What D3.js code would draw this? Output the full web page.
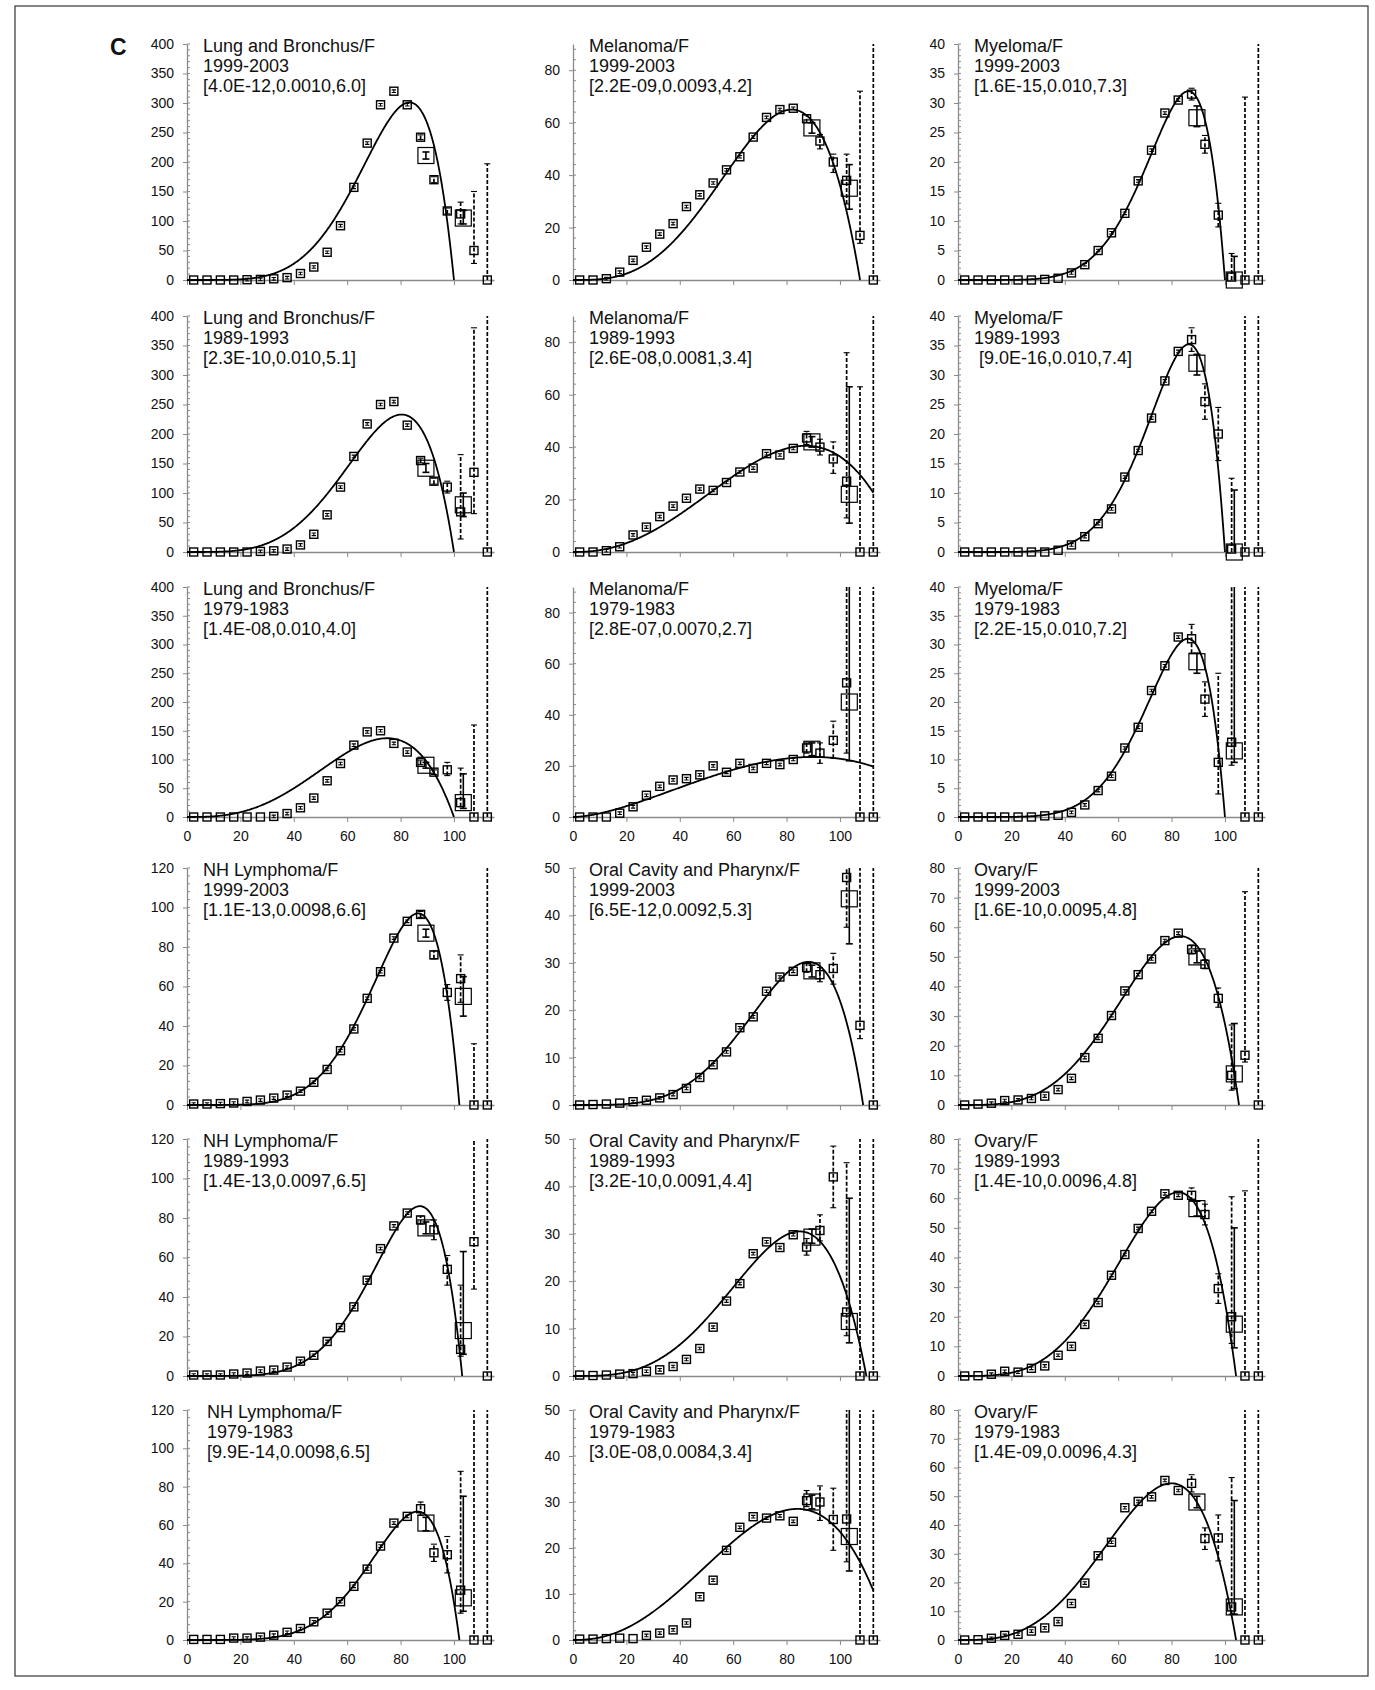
<!DOCTYPE html>
<html>
<head>
<meta charset="utf-8">
<script src="https://cdn.jsdelivr.net/npm/d3@7"></script>
<style>
  body { margin: 0; background: #fff; }
  svg text { font-family: "Liberation Sans", Arial, sans-serif; fill: #111; }
</style>
</head>
<body>
<div id="chart"></div>
<script>
// ---- data ----
const ages = [2.5, 7.5, 12.5, 17.5, 22.5, 27.5, 32.5, 37.5, 42.5, 47.5, 52.5, 57.5,
  62.5, 67.5, 72.5, 77.5, 82.5, 87.5, 92.5, 97.5, 102.5, 107.5, 112.5];
const tailAges = [87.5, 92.5, 97.5, 102.5, 107.5, 112.5]; // dashed error bars
const groupAges = [89.5, 103.5];                            // 85+ and 100+ groups

const siteNames = ["Lung and Bronchus/F", "Melanoma/F", "Myeloma/F",
  "NH Lymphoma/F", "Oral Cavity and Pharynx/F", "Ovary/F"];
const periods = ["1999-2003", "1989-1993", "1979-1983"];
const yMax = [400, 90, 40, 120, 50, 80];
const yStep = [50, 20, 5, 20, 10, 10];

const lungRates = [
  [0, 0, 0, 0, 0.5, 1, 2, 4, 11, 22, 47, 92, 157, 232, 297, 320, 297, 242, 170, 117, 112, 50, 0],
  [0, 0, 0, 0, 0, 1, 2, 5, 12, 30, 63, 110, 162, 217, 250, 255, 215, 155, 120, 110, 68, 135, 0],
  [0, 0, 0, 0, 0, 0, 1, 6, 16, 33, 63, 93, 125, 148, 150, 128, 113, 95, 78, 82, 25, 0, 0]
];
const melanomaRates = [
  [0, 0, 0.5, 3, 7.5, 12.5, 17.5, 21.5, 28, 32.5, 37, 42, 47, 54.5, 62, 65, 65.5, 61.5, 53, 45, 38, 17, 0],
  [0, 0, 0.5, 2, 6.5, 9.5, 13.5, 17.5, 20.5, 24, 23.5, 26.5, 30.5, 32, 37.5, 37, 39.5, 43.5, 40, 35.5, 27, 0, 0],
  [0, 0, 0, 1.5, 4, 8.5, 12, 14.5, 15, 16.5, 20, 17.5, 21, 19, 21, 20.5, 22.5, 27, 25, 30, 52.5, 0, 0]
];
const myelomaRates = [
  [0, 0, 0, 0, 0, 0, 0.1, 0.3, 1.2, 2.6, 5, 8, 11.3, 16.8, 22, 28.3, 30.5, 31.5, 23, 11, 0.5, 0, 0],
  [0, 0, 0, 0, 0, 0, 0, 0.3, 1.2, 2.6, 4.8, 7.3, 12.7, 17.2, 22.7, 29, 34, 36, 25.5, 20, 0.5, 0, 0],
  [0, 0, 0, 0, 0, 0, 0.2, 0.3, 0.8, 2.1, 4.6, 7.1, 12, 15.6, 22, 26.3, 31.3, 31, 20.5, 9.5, 13, 0, 0]
];
const lymphomaRates = [
  [0.5, 0.5, 0.7, 1, 1.8, 2.5, 3.5, 5, 7, 11.5, 18, 27.5, 38.5, 54, 67.5, 84.5, 93, 96.5, 76, 57, 64, 0, 0],
  [0.5, 0.5, 0.5, 1, 1.5, 2.5, 3, 4.5, 7.5, 10.5, 17.5, 24.5, 35, 48.5, 64.5, 76, 82.5, 79, 74, 54, 13.5, 68, 0],
  [0.3, 0.3, 0.3, 1, 1, 1.5, 2.5, 4, 6, 9.5, 14, 20, 28, 37, 49, 61, 64.5, 68.5, 45.5, 44.5, 26, 0, 0]
];
const oralRates = [
  [0, 0.1, 0.2, 0.4, 0.7, 1, 1.5, 2.2, 3.5, 5.8, 8.5, 11.2, 16.3, 18.6, 24, 27, 28.2, 29, 27.5, 28.8, 48, 16.8, 0],
  [0.2, 0.1, 0.2, 0.4, 0.5, 1, 1.3, 2, 3.5, 5.8, 10.3, 15.8, 19.5, 25.8, 28.3, 27.1, 29.8, 27.2, 30.7, 42, 13.5, 0, 0],
  [0.2, 0.2, 0.3, 0.4, 0.3, 1, 1.5, 2.2, 3.7, 9.4, 13, 19.5, 24.5, 26.8, 26.5, 27, 25.8, 30.3, 30, 26.2, 26.3, 0, 0]
];
const ovaryRates = [
  [0, 0.3, 0.6, 1.5, 1.7, 2.2, 3, 5.2, 9, 16, 22.5, 30.2, 38.5, 44, 49.3, 55.5, 58, 52.5, 47.5, 36, 10, 16.8, 0],
  [0, 0.1, 0.6, 1.6, 1.3, 2.6, 3.4, 7, 10, 17.4, 24.8, 34, 41, 49.8, 55.6, 61.5, 61, 61, 54.5, 29.5, 20, 0, 0],
  [0, 0.1, 0.6, 1.6, 2, 3.1, 4.2, 6.4, 12.7, 19.8, 29.3, 34, 46, 48.2, 49.8, 55.5, 52, 54.5, 35.3, 35.5, 11.5, 0, 0]
];

// [low, high] of the dashed error bars at tailAges
const lungTailErr = [
  [[238, 246], [165, 175], [112, 122], [95, 132], [28, 150], [0, 197]],
  [[151, 159], [115, 125], [100, 120], [22, 165], [65, 380], [0, 999]],
  [[91, 99], [74, 82], [72, 95], [18, 85], [0, 160], [0, 999]]
];
const melanomaTailErr = [
  [[60, 63], [50, 55.5], [41, 48], [29, 48], [14, 72], [0, 999]],
  [[41, 46], [37, 43], [30, 42], [13, 76], [0, 63], [0, 999]],
  [[25, 29], [21, 29], [23, 37.5], [25, 999], [0, 999], [0, 999]]
];
const myelomaTailErr = [
  [[30.5, 32.5], [21.5, 24.5], [9, 13], [0, 4.5], [0, 31], [0, 999]],
  [[34, 38], [22.5, 28.5], [15.5, 24.5], [0, 12.5], [0, 999], [0, 999]],
  [[28.5, 33.5], [17.5, 23.5], [4, 25], [9, 999], [0, 999], [0, 999]]
];
const lymphomaTailErr = [
  [[95, 98], [74, 78], [53, 61], [52, 76], [0, 31], [0, 999]],
  [[77, 81], [69, 79], [46, 61], [10, 46], [44, 999], [0, 999]],
  [[65, 72], [41, 50], [35, 54], [14, 88], [0, 999], [0, 999]]
];
const oralTailErr = [
  [[28, 30], [26, 29], [25.5, 32], [37.5, 999], [14, 999], [0, 999]],
  [[25.5, 29], [28.5, 34], [35.5, 48.5], [8.5, 45], [0, 999], [0, 999]],
  [[29, 32.5], [26, 33.5], [19.5, 33], [17, 999], [0, 999], [0, 999]]
];
const ovaryTailErr = [
  [[51, 54], [46, 49], [33, 39.5], [5, 27], [14.5, 72], [0, 999]],
  [[59, 63.5], [51, 58], [24.5, 34.5], [11, 60.5], [0, 62.5], [0, 999]],
  [[51.5, 57.5], [31.5, 39], [27.5, 43.5], [9, 56.5], [0, 999], [0, 999]]
];

// [value, low, high] of the 85+ and 100+ groups (large squares)
const lungGroups = [[[211, 205, 217], [105, 95, 118]], [[142, 135, 150], [80, 60, 100]], [[90, 85, 95], [25, 15, 75]]];
const melanomaGroups = [[[58, 56, 60], [35, 27, 44]], [[42, 40, 44], [22, 11, 63]], [[26.5, 24, 29], [45, 22, 999]]];
const myelomaGroups = [[[27.5, 26, 29.5], [0, 0, 4]], [[32, 30, 33.5], [0, 0, 10.5]], [[27, 25, 28.5], [11.5, 9.5, 999]]];
const lymphomaGroups = [[[87, 85, 89], [55, 45, 65]], [[75, 72, 78], [23, 11, 63]], [[61, 57, 64], [22, 15, 75]]];
const oralGroups = [[[28.3, 27, 29.5], [43.5, 34, 999]], [[29.3, 28, 31], [11.5, 7, 37.5]], [[30, 28.5, 31.5], [22.5, 15, 999]]];
const ovaryGroups = [[[50, 48, 52], [10.5, 5.5, 27.5]], [[56.5, 54, 59], [17.5, 9.5, 50]], [[48, 46, 50], [11.5, 9, 48.5]]];

// printed fit parameters
const lungFitText = ["[4.0E-12,0.0010,6.0]", "[2.3E-10,0.010,5.1]", "[1.4E-08,0.010,4.0]"];
const melanomaFitText = ["[2.2E-09,0.0093,4.2]", "[2.6E-08,0.0081,3.4]", "[2.8E-07,0.0070,2.7]"];
const myelomaFitText = ["[1.6E-15,0.010,7.3]", " [9.0E-16,0.010,7.4]", "[2.2E-15,0.010,7.2]"];
const lymphomaFitText = ["[1.1E-13,0.0098,6.6]", "[1.4E-13,0.0097,6.5]", "[9.9E-14,0.0098,6.5]"];
const oralFitText = ["[6.5E-12,0.0092,5.3]", "[3.2E-10,0.0091,4.4]", "[3.0E-08,0.0084,3.4]"];
const ovaryFitText = ["[1.6E-10,0.0095,4.8]", "[1.4E-10,0.0096,4.8]", "[1.4E-09,0.0096,4.3]"];

// fitted curve: [beta, k, peak height]
const lungFit = [[0.010, 6.0, 301], [0.010, 5.1, 233], [0.010, 4.0, 137]];
const melanomaFit = [[0.0093, 4.2, 65], [0.0081, 3.4, 40.5], [0.0070, 2.7, 23.5]];
const myelomaFit = [[0.010, 7.3, 32], [0.010, 7.4, 35.2], [0.010, 7.2, 31]];
const lymphomaFit = [[0.0098, 6.6, 97], [0.0097, 6.5, 86], [0.0098, 6.5, 67]];
const oralFit = [[0.0092, 5.3, 30.2], [0.0091, 4.4, 30.5], [0.0084, 3.4, 28.5]];
const ovaryFit = [[0.0095, 4.8, 57], [0.0096, 4.8, 62], [0.0096, 4.3, 54.5]];

const siteRates = [lungRates, melanomaRates, myelomaRates, lymphomaRates, oralRates, ovaryRates];
const siteTailErr = [lungTailErr, melanomaTailErr, myelomaTailErr, lymphomaTailErr, oralTailErr, ovaryTailErr];
const siteGroups = [lungGroups, melanomaGroups, myelomaGroups, lymphomaGroups, oralGroups, ovaryGroups];
const siteFitText = [lungFitText, melanomaFitText, myelomaFitText, lymphomaFitText, oralFitText, ovaryFitText];
const siteFit = [lungFit, melanomaFit, myelomaFit, lymphomaFit, oralFit, ovaryFit];

// ---- layout ----
const width = 1375, height = 1690;
const colX = [187, 573, 958];
const rowTop = [44, 316, 587, 868, 1139, 1410];
const rowBase = [280, 552, 817, 1105, 1376, 1640];
const plotW = 307;      // 0..115 years
const axisColor = "#8a8a8a";

const svg = d3.select("#chart").append("svg")
    .attr("width", width)
    .attr("height", height);

svg.append("rect")
    .attr("x", 15).attr("y", 6)
    .attr("width", 1353).attr("height", 1670)
    .attr("fill", "none")
    .attr("stroke", "#333")
    .attr("stroke-width", 1.2);

svg.append("text")
    .attr("x", 110).attr("y", 55)
    .attr("font-size", 23)
    .attr("font-weight", "bold")
    .text("C");

// fitted model t^(k-1) (1 - beta t), scaled to the drawn peak
function fitLine(beta, k, peak) {
  const tEnd = Math.min(1 / beta, ages[ages.length - 1]);
  const shape = t => Math.pow(t, k - 1) * (1 - beta * t);
  const scale = peak / shape((k - 1) / (k * beta));
  return d3.range(0, tEnd, 0.25).concat([tEnd]).map(t => [t, Math.max(0, shape(t) * scale)]);
}

for (let r = 0; r < 6; r++) {
  for (let c = 0; c < 3; c++) {
    const site = (r < 3 ? 0 : 3) + c;
    const p = r % 3;
    drawPanel(r, c, site, p, r === 2 || r === 5);
  }
}

function drawPanel(r, c, site, p, showXLabels) {
  const h = rowBase[r] - rowTop[r];
  const ymax = yMax[site];
  const x = d3.scaleLinear().domain([0, 115]).range([0, plotW]);
  const y = d3.scaleLinear().domain([0, ymax]).range([h, 0]);
  const yc = v => y(Math.min(v, ymax));

  const g = svg.append("g").attr("transform", `translate(${colX[c]},${rowTop[r]})`);
  const clipId = `clip-${r}-${c}`;
  g.append("clipPath").attr("id", clipId)
    .append("rect").attr("x", -10).attr("y", -1).attr("width", plotW + 20).attr("height", h + 12);

  // y axis: major ticks outside, minor ticks inside
  const yAxis = g.append("g")
      .call(d3.axisLeft(y)
        .tickValues(d3.range(0, ymax + 0.001, yStep[site]))
        .tickSize(4).tickSizeOuter(0).tickPadding(9));
  const minor = d3.range(0, ymax + 0.001, yStep[site] / 5);
  g.append("g").selectAll("line").data(minor).join("line")
      .attr("x1", 0).attr("x2", 3)
      .attr("y1", d => y(d)).attr("y2", d => y(d))
      .attr("stroke", axisColor);

  // x axis
  const xAxis = g.append("g")
      .attr("transform", `translate(0,${h})`)
      .call(d3.axisBottom(x)
        .tickValues([0, 20, 40, 60, 80, 100])
        .tickSize(5).tickSizeOuter(0).tickPadding(9)
        .tickFormat(showXLabels ? d3.format("d") : ""));

  [yAxis, xAxis].forEach(a => {
    a.select(".domain").attr("stroke", axisColor).attr("stroke-width", 1.3);
    a.selectAll(".tick line").attr("stroke", axisColor);
    a.selectAll(".tick text").attr("font-size", 14).attr("fill", "#111")
      .attr("font-family", "Liberation Sans, Arial, sans-serif");
  });

  const plot = g.append("g").attr("clip-path", `url(#${clipId})`);

  // fitted curve
  const [beta, k, peak] = siteFit[site][p];
  plot.append("path")
      .datum(fitLine(beta, k, peak))
      .attr("fill", "none")
      .attr("stroke", "#000")
      .attr("stroke-width", 1.8)
      .attr("d", d3.line().x(d => x(d[0])).y(d => y(d[1])));

  // dashed error bars for the oldest 5-year groups
  const tail = siteTailErr[site][p].map((e, i) => ({age: tailAges[i], lo: e[0], hi: e[1]}));
  const tg = plot.append("g")
      .attr("stroke", "#000")
      .attr("stroke-width", 1.7);
  tg.selectAll("line.bar").data(tail).join("line")
      .attr("class", "bar")
      .attr("stroke-dasharray", "4,2")
      .attr("x1", d => x(d.age)).attr("x2", d => x(d.age))
      .attr("y1", d => yc(d.lo)).attr("y2", d => yc(d.hi));
  tg.selectAll("line.cap").data(tail.flatMap(d => [
        {age: d.age, v: d.lo}, {age: d.age, v: d.hi}]).filter(d => d.v > 0 && d.v <= ymax))
      .join("line")
      .attr("class", "cap")
      .attr("stroke-width", 1.1)
      .attr("x1", d => x(d.age) - 3).attr("x2", d => x(d.age) + 3)
      .attr("y1", d => y(d.v)).attr("y2", d => y(d.v));

  // 85+ and 100+ groups: solid error bars and large squares
  const groups = siteGroups[site][p].map((e, i) => ({age: groupAges[i], v: e[0], lo: e[1], hi: e[2]}));
  const gg = plot.append("g").attr("stroke", "#000").attr("stroke-width", 1.6);
  gg.selectAll("line.bar").data(groups).join("line")
      .attr("class", "bar")
      .attr("x1", d => x(d.age)).attr("x2", d => x(d.age))
      .attr("y1", d => yc(d.lo)).attr("y2", d => yc(d.hi));
  gg.selectAll("line.cap").data(groups.flatMap(d => [
        {age: d.age, v: d.lo}, {age: d.age, v: d.hi}]).filter(d => d.v > 0 && d.v <= ymax))
      .join("line")
      .attr("class", "cap")
      .attr("x1", d => x(d.age) - 3.5).attr("x2", d => x(d.age) + 3.5)
      .attr("y1", d => y(d.v)).attr("y2", d => y(d.v));
  gg.selectAll("rect").data(groups).join("rect")
      .attr("x", d => x(d.age) - 8).attr("y", d => y(d.v) - 8)
      .attr("width", 16).attr("height", 16)
      .attr("fill", "none")
      .attr("stroke-width", 1.2);

  // 5-year age groups: small squares with their short error bars
  const pts = siteRates[site][p].map((v, i) => ({age: ages[i], v}));
  const pg = plot.append("g").attr("stroke", "#000");
  pg.selectAll("rect").data(pts).join("rect")
      .attr("x", d => x(d.age) - 4).attr("y", d => y(d.v) - 4)
      .attr("width", 8).attr("height", 8)
      .attr("fill", "none")
      .attr("stroke-width", 1.4);
  pg.selectAll("path").data(pts.filter(d => d.age < 85 && d.v > 0.4)).join("path")
      .attr("fill", "none")
      .attr("stroke-width", 1.1)
      .attr("d", d => {
        const cx = x(d.age), cy = y(d.v);
        return `M${cx - 2.2},${cy - 1.3}H${cx + 2.2}M${cx},${cy - 1.3}V${cy + 1.3}M${cx - 2.2},${cy + 1.3}H${cx + 2.2}`;
      });

  // panel label
  const lines = [siteNames[site], periods[p], siteFitText[site][p]];
  const dx = (site === 3 && p === 2) ? 4 : 0;
  g.append("g").selectAll("text").data(lines).join("text")
      .attr("x", 16 + dx)
      .attr("y", (d, i) => 7.5 + i * 20)
      .attr("font-size", 18)
      .style("white-space", "pre")
      .text(d => d);
}
</script>
</body>
</html>
